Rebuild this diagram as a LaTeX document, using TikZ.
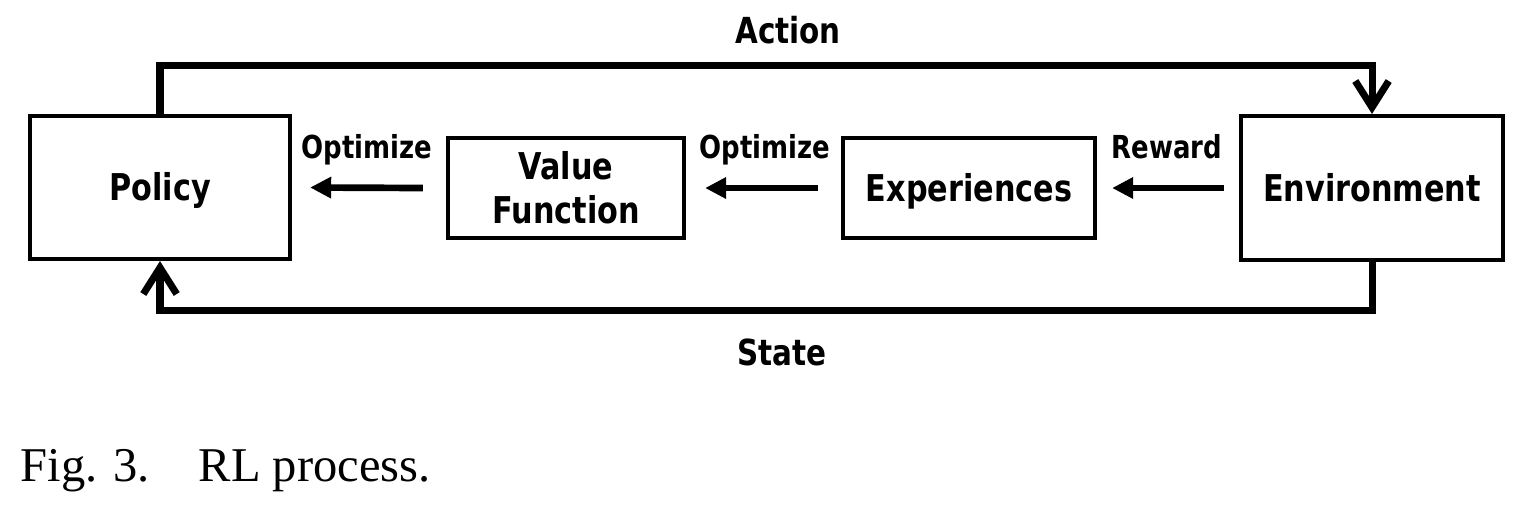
\documentclass[tikz,border=0pt]{standalone}
\usepackage{fontspec}
\setmainfont{Liberation Serif}
\newfontfamily\comicfont{DejaVu Sans}[FakeStretch=0.82]
\usetikzlibrary{arrows.meta}

\begin{document}
\begin{tikzpicture}[x=0.01cm,y=-0.01cm,
  box/.style={draw,line width=1.15pt,inner sep=0pt,align=center,
    font=\comicfont\bfseries\fontsize{10.5}{12.5}\selectfont},
  lbl/.style={inner sep=0pt,anchor=base,font=\comicfont\bfseries\fontsize{9}{10}\selectfont},
  biglbl/.style={inner sep=0pt,anchor=base,font=\comicfont\bfseries\fontsize{10.2}{11}\selectfont},
  loopline/.style={line width=2pt,-{Straight Barb[length=7.5pt,width=9.5pt]}},
  flow/.style={line width=1.9pt,-{Triangle[length=6pt,width=5.8pt]}}]
\useasboundingbox (0,0) rectangle (1524,508);
% Draw the boxes
\node[box,minimum width=2.6cm,minimum height=1.43cm,text height=7.65pt,text depth=0pt] (policy) at (160,187.5) {Policy};
\node[box,minimum width=2.36cm,minimum height=1cm] (vf) at (566,188) {Value\\Function};
\node[box,minimum width=2.52cm,minimum height=1cm,text height=7.65pt,text depth=0pt] (exp) at (969,188) {Experiences};
\node[box,minimum width=2.62cm,minimum height=1.44cm,text height=7.65pt,text depth=0pt] (env) at (1372,188) {Environment};
% Inner arrows and their labels
\draw[flow] ([xshift=-0.15cm]env.west) -- ([xshift=0.15cm]exp.east);
\draw[flow] ([xshift=-0.23cm]exp.west) -- ([xshift=0.19cm]vf.east);
\draw[flow] ([xshift=-0.23cm]vf.west) -- ([xshift=0.18cm]policy.east);
\node[lbl] (rew) at (1167,158) {Reward};
\node[lbl] (opt2) at (765,158) {Optimize};
\node[lbl] (opt1) at (367,158) {Optimize};
% Outer loop: action and state
\draw[loopline] (policy.north) -- ++(0,-48) -| (env.north);
\draw[loopline] (env.south) -- ++(0,48) -| (policy.south);
\node[biglbl] (act) at (788,43) {Action};
\node[biglbl] (st) at (782,365) {State};
% Caption
\node[anchor=base west,inner sep=0pt,font=\fontsize{13.8}{16}\selectfont] (cap) at (20,481) {Fig. 3.\hspace{1em}RL process.};
\end{tikzpicture}
\end{document}
